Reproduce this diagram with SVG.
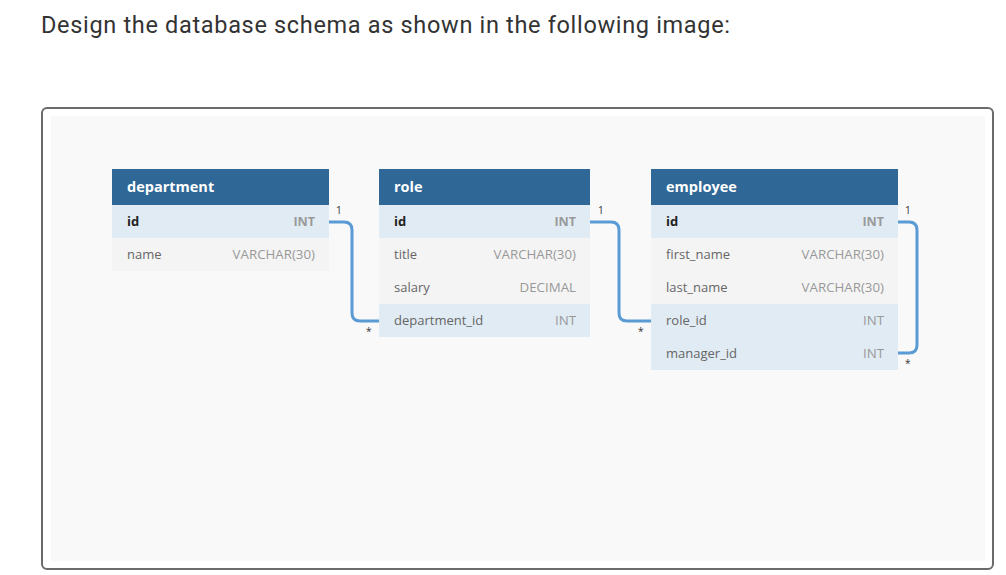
<svg xmlns="http://www.w3.org/2000/svg" width="1006" height="575" viewBox="0 0 1006 575">
<style>
.title{font-family:Roboto,"Liberation Sans",sans-serif;font-size:23.5px;fill:#333}
.hdr{fill:#2f6796}
.htxt{font-family:"Open Sans","Liberation Sans",sans-serif;font-size:14.5px;font-weight:bold;fill:#fff}
.pk{fill:#e0ebf4}
.fk{fill:#e0ebf4}
.row{fill:#f4f4f4}
.name{font-family:"Open Sans","Liberation Sans",sans-serif;font-size:13px;fill:#666}
.idn{font-family:"Open Sans","Liberation Sans",sans-serif;font-size:13px;font-weight:bold;fill:#222}
.type{font-family:"Open Sans","Liberation Sans",sans-serif;font-size:13.3px;fill:#999;text-anchor:end}
.ptype{font-family:"Open Sans","Liberation Sans",sans-serif;font-size:12.5px;font-weight:bold;fill:#999;text-anchor:end}
.conn{fill:none;stroke:#5b9bd5;stroke-width:3}
.card{font-family:"Open Sans","Liberation Sans",sans-serif;font-size:10px;fill:#333}
</style>
<rect width="1006" height="575" fill="#fff"/>
<text class="title" x="41" y="32.5" textLength="689" lengthAdjust="spacing">Design the database schema as shown in the following image:</text>
<rect x="42" y="108" width="951" height="461" rx="5" fill="#fff" stroke="#6b6b6b" stroke-width="2"/>
<rect x="51" y="116" width="934" height="445" fill="#f9f9f9"/>

<g id="connectors">
<path class="conn" d="M329 222 H344 Q352 222 352 230 V313 Q352 321 360 321 H379"/>
<path class="conn" d="M590 222 H611 Q619 222 619 230 V313 Q619 321 627 321 H651"/>
<path class="conn" d="M898 222 H909 Q917 222 917 230 V345 Q917 353 909 353 H898"/>
<text class="card" x="336" y="214">1</text>
<text class="card" x="366" y="335">*</text>
<text class="card" x="598" y="214">1</text>
<text class="card" x="638" y="335">*</text>
<text class="card" x="905" y="214">1</text>
<text class="card" x="905" y="367">*</text>
</g>

<g id="department">
<rect class="hdr" x="112" y="169" width="217" height="36"/>
<text class="htxt" x="127" y="192">department</text>
<rect class="pk" x="112" y="205" width="217" height="33"/>
<text class="idn" x="127" y="226">id</text>
<text class="ptype" x="315" y="226">INT</text>
<rect class="row" x="112" y="238" width="217" height="33"/>
<text class="name" x="127" y="259">name</text>
<text class="type" x="315" y="259">VARCHAR(30)</text>
</g>

<g id="role">
<rect class="hdr" x="379" y="169" width="211" height="36"/>
<text class="htxt" x="394" y="192">role</text>
<rect class="pk" x="379" y="205" width="211" height="33"/>
<text class="idn" x="394" y="226">id</text>
<text class="ptype" x="576" y="226">INT</text>
<rect class="row" x="379" y="238" width="211" height="33"/>
<text class="name" x="394" y="259">title</text>
<text class="type" x="576" y="259">VARCHAR(30)</text>
<rect class="row" x="379" y="271" width="211" height="33"/>
<text class="name" x="394" y="292">salary</text>
<text class="type" x="576" y="292">DECIMAL</text>
<rect class="fk" x="379" y="304" width="211" height="33"/>
<text class="name" x="394" y="325">department_id</text>
<text class="type" x="576" y="325">INT</text>
</g>

<g id="employee">
<rect class="hdr" x="651" y="169" width="247" height="36"/>
<text class="htxt" x="666" y="192">employee</text>
<rect class="pk" x="651" y="205" width="247" height="33"/>
<text class="idn" x="666" y="226">id</text>
<text class="ptype" x="884" y="226">INT</text>
<rect class="row" x="651" y="238" width="247" height="33"/>
<text class="name" x="666" y="259">first_name</text>
<text class="type" x="884" y="259">VARCHAR(30)</text>
<rect class="row" x="651" y="271" width="247" height="33"/>
<text class="name" x="666" y="292">last_name</text>
<text class="type" x="884" y="292">VARCHAR(30)</text>
<rect class="fk" x="651" y="304" width="247" height="33"/>
<text class="name" x="666" y="325">role_id</text>
<text class="type" x="884" y="325">INT</text>
<rect class="fk" x="651" y="337" width="247" height="33"/>
<text class="name" x="666" y="358">manager_id</text>
<text class="type" x="884" y="358">INT</text>
</g>
</svg>
